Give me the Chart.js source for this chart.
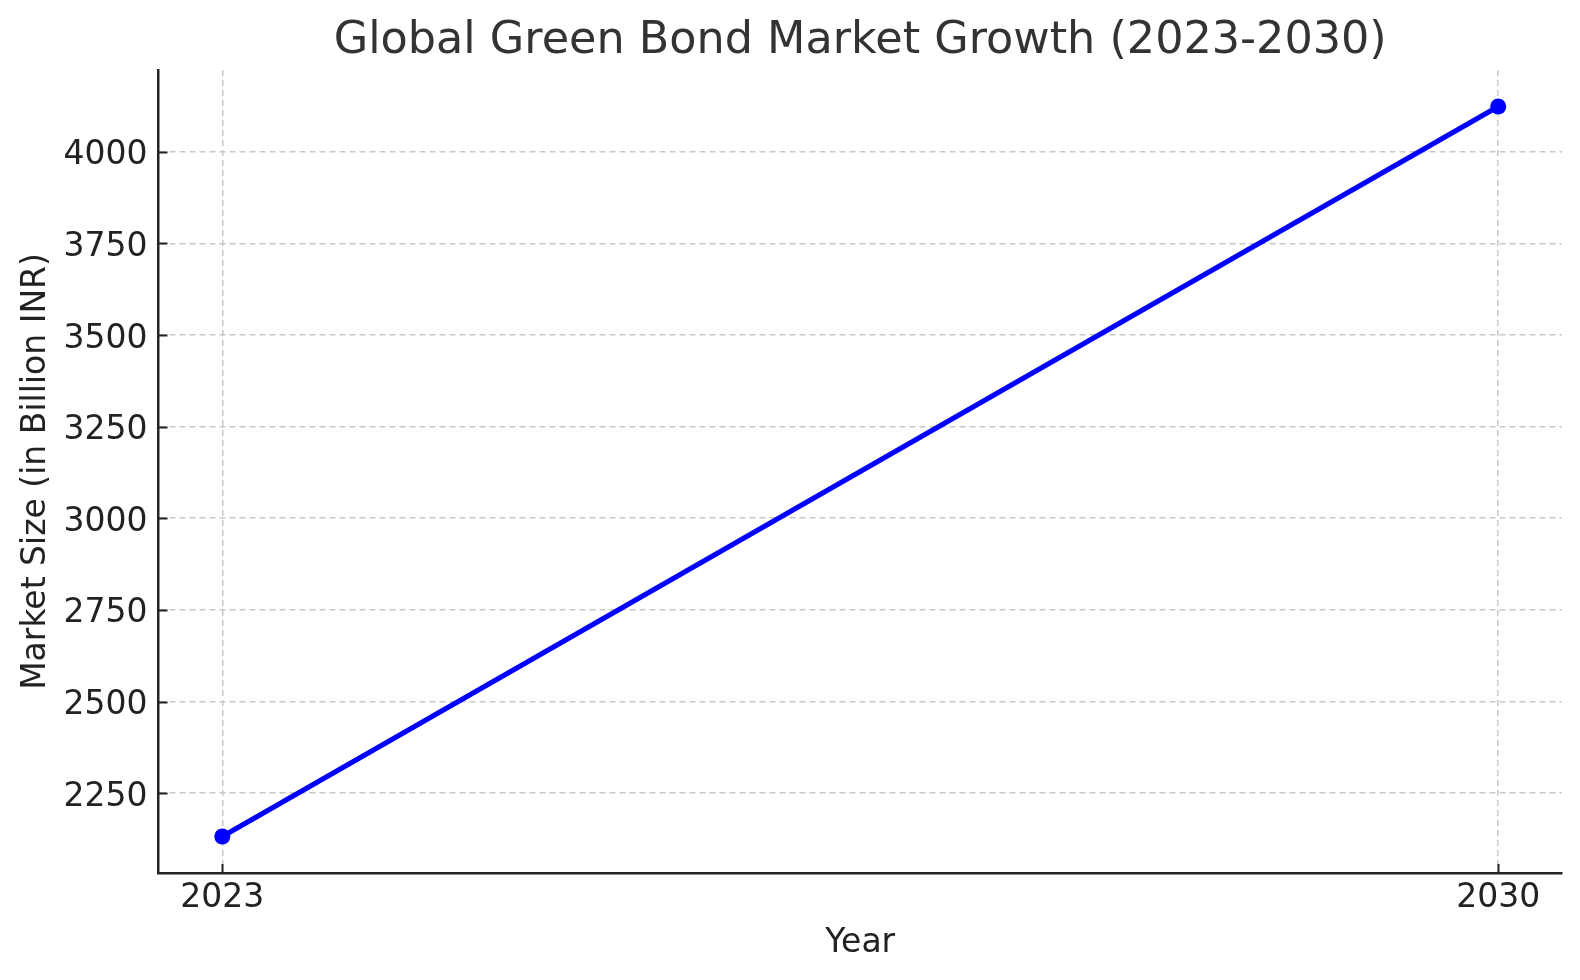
<!DOCTYPE html>
<html>
<head>
<meta charset="utf-8">
<script src="https://cdn.jsdelivr.net/npm/chart.js@4.4.1/dist/chart.umd.min.js"></script>
<style>
  html, body { margin: 0; padding: 0; background: #ffffff; }
  #wrap { width: 1580px; height: 980px; }
</style>
</head>
<body>
<div id="wrap"><canvas id="c" width="1580" height="980"></canvas></div>
<script>
// ---- data ----
const years = [2023, 2030];
const marketSize = [2132, 4123];
const yTickValues = [2250, 2500, 2750, 3000, 3250, 3500, 3750, 4000];
const xTickValues = [2023, 2030];

const titleText = 'Global Green Bond Market Growth (2023-2030)';
const xLabel = 'Year';
const yLabel = 'Market Size (in Billion INR)';

// matplotlib-like 5% margins
const xSpan = years[years.length - 1] - years[0];
const yMinD = Math.min(...marketSize), yMaxD = Math.max(...marketSize);
const ySpan = yMaxD - yMinD;

const FONT = 'DejaVu Sans';
const LABEL_SIZE = 33;

const innerTicks = {
  id: 'innerTicks',
  afterDraw(chart) {
    const ctx = chart.ctx;
    const area = chart.chartArea;
    const xs = chart.scales.x, ys = chart.scales.y;
    ctx.save();
    ctx.strokeStyle = '#222222';
    ctx.lineWidth = 2;
    xs.ticks.forEach(t => {
      const px = Math.round(xs.getPixelForValue(t.value)) + 0.5;
      ctx.beginPath();
      ctx.moveTo(px, area.bottom);
      ctx.lineTo(px, area.bottom - 9);
      ctx.stroke();
    });
    ys.ticks.forEach(t => {
      const py = Math.round(ys.getPixelForValue(t.value)) + 0.5;
      ctx.beginPath();
      ctx.moveTo(area.left, py);
      ctx.lineTo(area.left + 9, py);
      ctx.stroke();
    });
    ctx.restore();
  }
};

new Chart(document.getElementById('c'), {
  type: 'line',
  data: {
    datasets: [{
      data: years.map((y, i) => ({ x: y, y: marketSize[i] })),
      borderColor: '#0000ff',
      backgroundColor: '#0000ff',
      borderWidth: 5,
      pointRadius: 8,
      pointHoverRadius: 8,
      pointBackgroundColor: '#0000ff',
      pointBorderWidth: 0,
      tension: 0,
      fill: false
    }]
  },
  options: {
    responsive: false,
    animation: false,
    devicePixelRatio: 1,
    layout: { padding: { left: 0, right: 18, top: 0, bottom: 0 } },
    plugins: {
      legend: { display: false },
      tooltip: { enabled: false },
      title: {
        display: true,
        fullSize: false,
        text: titleText,
        color: '#333333',
        font: { family: FONT, size: 44.5, weight: 'normal' },
        padding: { top: 14.8, bottom: 1.8 }
      }
    },
    scales: {
      x: {
        type: 'linear',
        min: years[0] - 0.05 * xSpan,
        max: years[years.length - 1] + 0.05 * xSpan,
        afterBuildTicks: s => { s.ticks = xTickValues.map(v => ({ value: v })); },
        afterFit: s => { s.height = 980 - 873; },
        ticks: {
          color: '#222222',
          font: { family: FONT, size: LABEL_SIZE },
          padding: 6,
          maxRotation: 0,
          callback: v => String(v)
        },
        grid: {
          color: '#c8c8c8',
          lineWidth: 1.5,
          drawTicks: false
        },
        border: { display: true, color: '#222222', width: 2.5, dash: [6, 4] },
        title: {
          display: true,
          text: xLabel,
          color: '#222222',
          font: { family: FONT, size: LABEL_SIZE },
          padding: { top: 0, bottom: 17 }
        }
      },
      y: {
        type: 'linear',
        min: yMinD - 0.05 * ySpan,
        max: yMaxD + 0.05 * ySpan,
        afterBuildTicks: s => { s.ticks = yTickValues.map(v => ({ value: v })); },
        afterFit: s => { s.width = 158.5; },
        ticks: {
          color: '#222222',
          font: { family: FONT, size: LABEL_SIZE },
          padding: 11,
          labelOffset: 4,
          callback: v => String(v)
        },
        grid: {
          color: '#c8c8c8',
          lineWidth: 1.5,
          drawTicks: false
        },
        border: { display: true, color: '#222222', width: 2.5, dash: [6, 4] },
        title: {
          display: true,
          text: yLabel,
          color: '#222222',
          font: { family: FONT, size: LABEL_SIZE },
          padding: { top: 17, bottom: 0 }
        }
      }
    }
  },
  plugins: [innerTicks]
});
</script>
</body>
</html>
